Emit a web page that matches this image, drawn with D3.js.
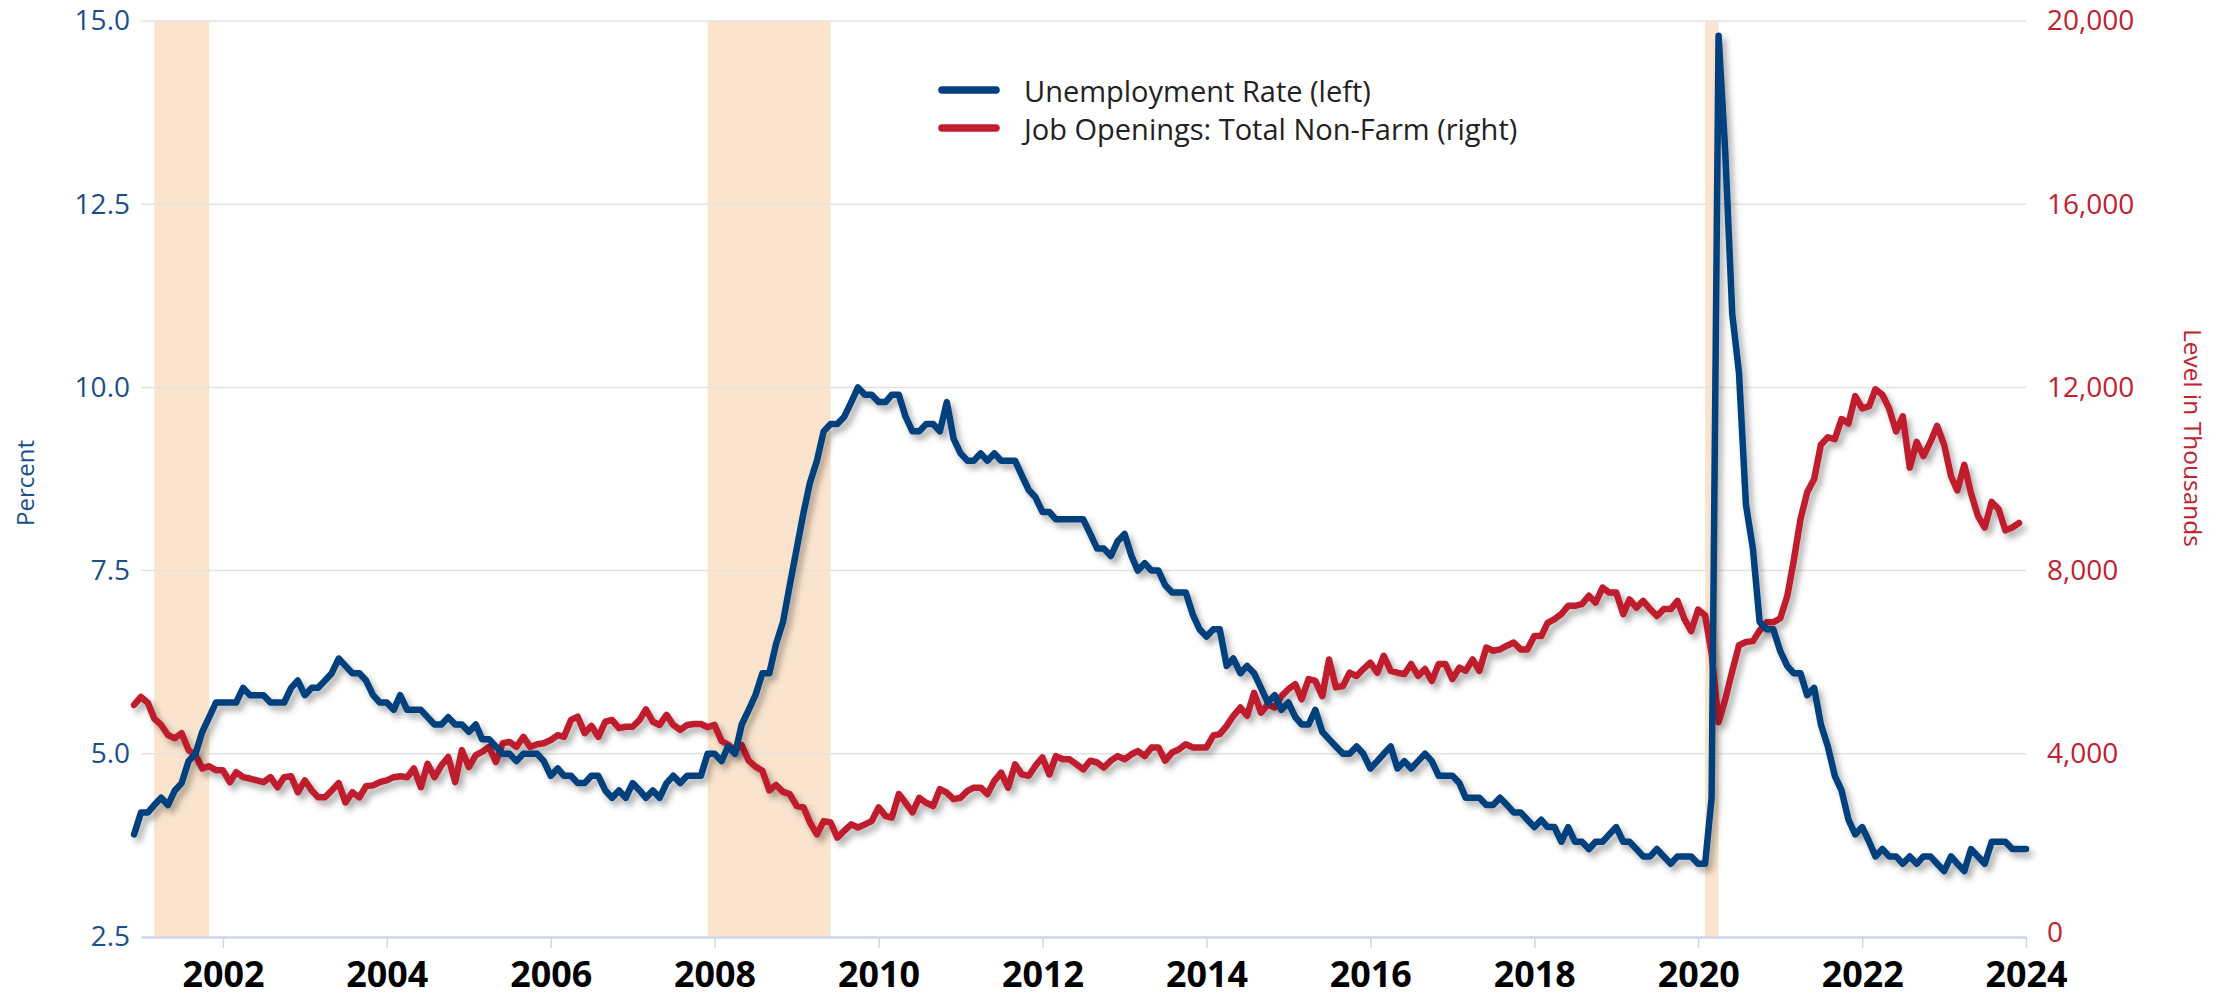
<!DOCTYPE html>
<html><head><meta charset="utf-8">
<script src="https://cdn.jsdelivr.net/npm/d3@7/dist/d3.min.js"></script>
<style>
html,body{margin:0;padding:0;background:#fff;}
svg{display:block;}
</style></head>
<body>
<svg id="chart" width="2231" height="997"></svg>
<script>
// ---- DATA ----
const firstMonth = [2000, 11]; // Dec 2000 (year, zero-based month)
// Unemployment rate, percent, monthly Dec 2000 - Jan 2024
const unemploymentRate = [
  3.9,
  4.2,4.2,4.3,4.4,4.3,4.5,4.6,4.9,5.0,5.3,5.5,5.7,
  5.7,5.7,5.7,5.9,5.8,5.8,5.8,5.7,5.7,5.7,5.9,6.0,
  5.8,5.9,5.9,6.0,6.1,6.3,6.2,6.1,6.1,6.0,5.8,5.7,
  5.7,5.6,5.8,5.6,5.6,5.6,5.5,5.4,5.4,5.5,5.4,5.4,
  5.3,5.4,5.2,5.2,5.1,5.0,5.0,4.9,5.0,5.0,5.0,4.9,
  4.7,4.8,4.7,4.7,4.6,4.6,4.7,4.7,4.5,4.4,4.5,4.4,
  4.6,4.5,4.4,4.5,4.4,4.6,4.7,4.6,4.7,4.7,4.7,5.0,
  5.0,4.9,5.1,5.0,5.4,5.6,5.8,6.1,6.1,6.5,6.8,7.3,
  7.8,8.3,8.7,9.0,9.4,9.5,9.5,9.6,9.8,10.0,9.9,9.9,
  9.8,9.8,9.9,9.9,9.6,9.4,9.4,9.5,9.5,9.4,9.8,9.3,
  9.1,9.0,9.0,9.1,9.0,9.1,9.0,9.0,9.0,8.8,8.6,8.5,
  8.3,8.3,8.2,8.2,8.2,8.2,8.2,8.0,7.8,7.8,7.7,7.9,
  8.0,7.7,7.5,7.6,7.5,7.5,7.3,7.2,7.2,7.2,6.9,6.7,
  6.6,6.7,6.7,6.2,6.3,6.1,6.2,6.1,5.9,5.7,5.8,5.6,
  5.7,5.5,5.4,5.4,5.6,5.3,5.2,5.1,5.0,5.0,5.1,5.0,
  4.8,4.9,5.0,5.1,4.8,4.9,4.8,4.9,5.0,4.9,4.7,4.7,
  4.7,4.6,4.4,4.4,4.4,4.3,4.3,4.4,4.3,4.2,4.2,4.1,
  4.0,4.1,4.0,4.0,3.8,4.0,3.8,3.8,3.7,3.8,3.8,3.9,
  4.0,3.8,3.8,3.7,3.6,3.6,3.7,3.6,3.5,3.6,3.6,3.6,
  3.5,3.5,4.4,14.8,13.2,11.0,10.2,8.4,7.8,6.8,6.7,6.7,
  6.4,6.2,6.1,6.1,5.8,5.9,5.4,5.1,4.7,4.5,4.1,3.9,
  4.0,3.8,3.6,3.7,3.6,3.6,3.5,3.6,3.5,3.6,3.6,3.5,
  3.4,3.6,3.5,3.4,3.7,3.6,3.5,3.8,3.8,3.8,3.7,3.7,
  3.7
];
// Job openings, total non-farm, thousands, monthly Dec 2000 - Dec 2023
const jobOpenings = [
  5066,
  5240,5110,4770,4630,4410,4340,4450,4080,3970,3680,3730,3640,
  3640,3380,3600,3490,3460,3420,3380,3490,3270,3490,3510,3160,
  3420,3200,3050,3050,3200,3360,2940,3160,3050,3290,3310,3380,
  3420,3490,3510,3490,3680,3270,3780,3490,3750,3930,3380,4080,
  3710,3970,4040,4150,3820,4230,4260,4150,4370,4150,4210,4230,
  4300,4410,4370,4740,4810,4450,4610,4370,4700,4740,4560,4590,
  4590,4740,4970,4700,4630,4850,4630,4520,4630,4650,4650,4580,
  4630,4280,4200,4080,4190,3850,3720,3630,3200,3320,3170,3120,
  2860,2830,2500,2240,2530,2500,2170,2320,2460,2390,2460,2530,
  2830,2640,2610,3120,2930,2720,3040,2930,2860,3230,3150,3010,
  3040,3190,3260,3260,3120,3410,3590,3260,3770,3550,3520,3740,
  3920,3550,3950,3880,3880,3770,3660,3850,3810,3700,3850,3950,
  3880,3990,4060,3950,4140,4140,3850,4030,4100,4210,4140,4140,
  4140,4400,4430,4610,4830,5010,4830,5330,4900,5080,5010,5260,
  5410,5520,5190,5630,5590,5260,6060,5450,5480,5770,5700,5850,
  5990,5770,6140,5810,5770,5740,5960,5700,5850,5590,5960,5960,
  5630,5880,5810,6060,5810,6320,6250,6280,6360,6430,6280,6280,
  6570,6570,6860,6940,7050,7230,7230,7270,7450,7300,7630,7520,
  7520,7050,7370,7190,7340,7160,7010,7160,7160,7340,6940,6680,
  7150,7020,6190,4690,5190,5810,6370,6440,6460,6690,6870,6870,
  6960,7440,8190,9120,9710,10000,10750,10910,10870,11310,11210,11810,
  11540,11590,11960,11840,11540,11040,11370,10250,10810,10500,10810,11160,
  10750,10060,9750,10310,9690,9190,8940,9500,9340,8880,8940,9040
];
const recessions = [
  ["2001-03-01", "2001-11-01"],
  ["2007-12-01", "2009-06-01"],
  ["2020-02-01", "2020-04-01"]
];
const leftTicks = [2.5, 5.0, 7.5, 10.0, 12.5, 15.0];
const rightTicks = [0, 4000, 8000, 12000, 16000, 20000];
const yearTicks = [2002, 2004, 2006, 2008, 2010, 2012, 2014, 2016, 2018, 2020, 2022, 2024];
const seriesNames = ["Unemployment Rate (left)", "Job Openings: Total Non-Farm (right)"];
const leftTitle = "Percent";
const rightTitle = "Level in Thousands";

// ---- CHART ----
const BLUE = "#023f7d", RED = "#bf1e2e";
const svg = d3.select("#chart");
const L = 141, R = 2026, T = 21, B = 937;

const monthDate = i => new Date(firstMonth[0], firstMonth[1] + i, 1);
const parse = d3.timeParse("%Y-%m-%d");

const x = d3.scaleTime().domain([new Date(2001, 0, 1), new Date(2024, 0, 1)]).range([L, R]);
const yL = d3.scaleLinear().domain([2.5, 15]).range([B, T]);
const yR = d3.scaleLinear().domain([0, 20000]).range([B, T]);

const defs = svg.append("defs");
const f = defs.append("filter").attr("id", "shadow")
  .attr("x", "-5%").attr("y", "-5%").attr("width", "112%").attr("height", "120%");
f.append("feDropShadow").attr("dx", 4).attr("dy", 5).attr("stdDeviation", 3)
  .attr("flood-color", "#000").attr("flood-opacity", 0.32);

// recession bands
svg.append("g").selectAll("rect").data(recessions).join("rect")
  .attr("x", d => x(parse(d[0])))
  .attr("width", d => x(parse(d[1])) - x(parse(d[0])))
  .attr("y", T).attr("height", B - T)
  .attr("fill", "#fbe4cd");

// gridlines
svg.append("g").selectAll("line").data(leftTicks.filter(t => t > 2.5)).join("line")
  .attr("x1", L).attr("x2", R)
  .attr("y1", d => yL(d)).attr("y2", d => yL(d))
  .attr("stroke", "#e3e3e3").attr("stroke-width", 1.5);

// x axis
const xAxis = svg.append("g").attr("transform", `translate(0,${B})`)
  .call(d3.axisBottom(x)
    .tickValues(yearTicks.map(y => new Date(y, 0, 1)))
    .tickFormat(d3.timeFormat("%Y"))
    .tickSize(11).tickSizeOuter(0).tickPadding(0));
xAxis.select(".domain").attr("stroke", "#ccd6eb").attr("stroke-width", 2.5);
xAxis.selectAll(".tick line").attr("stroke", "#ccd6eb").attr("stroke-width", 1.5);
xAxis.selectAll(".tick text")
  .attr("y", 49.5).attr("dy", null)
  .attr("font-family", "'Open Sans', sans-serif")
  .attr("font-weight", 700).attr("font-size", 35).attr("fill", "#000")
  .attr("textLength", 82).attr("lengthAdjust", "spacingAndGlyphs");

// left axis
const yAxisL = svg.append("g").attr("transform", `translate(${L},0)`)
  .call(d3.axisLeft(yL).tickValues(leftTicks).tickFormat(d3.format(".1f")).tickSize(0).tickPadding(11));
yAxisL.select(".domain").remove();
yAxisL.selectAll(".tick text")
  .attr("font-family", "'Open Sans', sans-serif").attr("font-size", 28).attr("fill", "#1a4f8b");

// right axis
const yAxisR = svg.append("g").attr("transform", `translate(${R},0)`)
  .call(d3.axisRight(yR).tickValues(rightTicks).tickFormat(d3.format(",")).tickSize(0).tickPadding(21));
yAxisR.select(".domain").remove();
yAxisR.selectAll(".tick text")
  .attr("font-family", "'Open Sans', sans-serif").attr("font-size", 28).attr("fill", "#c1202f")
  .attr("dy", d => d === 0 ? "0.15em" : "0.32em");

// axis titles
svg.append("text").text(leftTitle)
  .attr("transform", "translate(24,483) rotate(-90)")
  .attr("text-anchor", "middle").attr("dominant-baseline", "central")
  .attr("font-family", "'Open Sans', sans-serif").attr("font-size", 24)
  .attr("fill", "#1a4f8b");
svg.append("text").text(rightTitle)
  .attr("transform", "translate(2193,438) rotate(90)")
  .attr("text-anchor", "middle").attr("dominant-baseline", "central")
  .attr("font-family", "'Open Sans', sans-serif").attr("font-size", 24.5)
  .attr("fill", "#c1202f");

// lines
const lineR = d3.line().x((d, i) => x(monthDate(i))).y(d => yR(d));
const lineL = d3.line().x((d, i) => x(monthDate(i))).y(d => yL(d));
svg.append("path").datum(jobOpenings).attr("d", lineR)
  .attr("fill", "none").attr("stroke", RED).attr("stroke-width", 6.5)
  .attr("stroke-linejoin", "round").attr("stroke-linecap", "round")
  .attr("filter", "url(#shadow)");
svg.append("path").datum(unemploymentRate).attr("d", lineL)
  .attr("fill", "none").attr("stroke", BLUE).attr("stroke-width", 6.5)
  .attr("stroke-linejoin", "round").attr("stroke-linecap", "round")
  .attr("filter", "url(#shadow)");

// legend
const legend = svg.append("g");
const legItems = [{name: seriesNames[0], color: BLUE, y: 90}, {name: seriesNames[1], color: RED, y: 128}];
legItems.forEach(it => {
  legend.append("line").attr("x1", 942).attr("x2", 996).attr("y1", it.y).attr("y2", it.y)
    .attr("stroke", it.color).attr("stroke-width", 7.5).attr("stroke-linecap", "round");
  legend.append("text").text(it.name).attr("x", 1024).attr("y", it.y)
    .attr("dominant-baseline", "central")
    .attr("font-family", "'Open Sans', sans-serif").attr("font-size", 29).attr("fill", "#222");
});
</script>
</body></html>
